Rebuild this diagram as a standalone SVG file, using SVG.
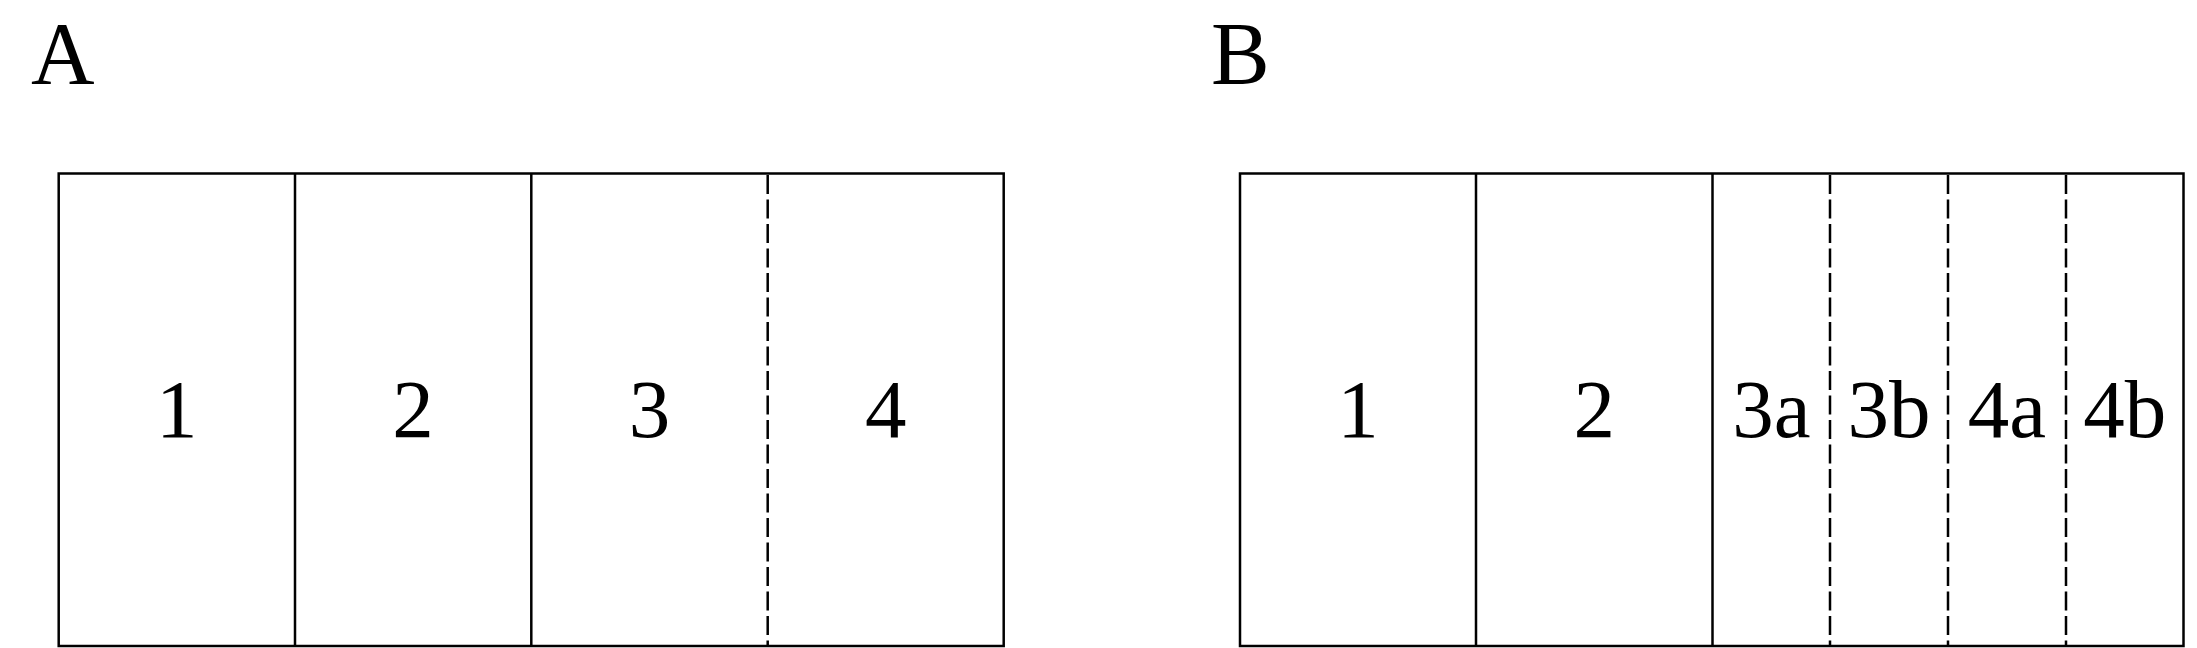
<svg xmlns="http://www.w3.org/2000/svg" width="2197" height="648" viewBox="0 0 2197 648">
<style>
.frame{fill:none;stroke:#000;stroke-width:2.5}
.solid{stroke:#000;stroke-width:2.5}
.dash{stroke:#000;stroke-width:2.5;stroke-dasharray:19 5.5}
.title{font-family:"Liberation Serif","DejaVu Serif",serif;font-size:88px;fill:#000}
.lbl{font-family:"Liberation Serif","DejaVu Serif",serif;font-size:83px;fill:#000;text-anchor:middle}
</style>
<rect width="2197" height="648" fill="#fff"/>
<g id="panelA">
<text class="title" x="31" y="83">A</text>
<rect class="frame" x="58.7" y="173.5" width="945" height="472.5"/>
<g id="connectorsA">
<line class="solid" x1="295" y1="173.5" x2="295" y2="646"/>
<line class="solid" x1="531.3" y1="173.5" x2="531.3" y2="646"/>
<line class="dash" x1="767.7" y1="175" x2="767.7" y2="646"/>
</g>
<g id="A1"><text class="lbl" x="176.8" y="437">1</text></g>
<g id="A2"><text class="lbl" x="413.1" y="437">2</text></g>
<g id="A3"><text class="lbl" x="649.5" y="437">3</text></g>
<g id="A4"><text class="lbl" x="885.8" y="437">4</text></g>
</g>
<g id="panelB">
<text class="title" x="1211" y="83">B</text>
<rect class="frame" x="1240" y="173.5" width="943.5" height="472.5"/>
<g id="connectorsB">
<line class="solid" x1="1476" y1="173.5" x2="1476" y2="646"/>
<line class="solid" x1="1712.5" y1="173.5" x2="1712.5" y2="646"/>
<line class="dash" x1="1830" y1="175" x2="1830" y2="646"/>
<line class="dash" x1="1948" y1="175" x2="1948" y2="646"/>
<line class="dash" x1="2066" y1="175" x2="2066" y2="646"/>
</g>
<g id="B1"><text class="lbl" x="1358" y="437">1</text></g>
<g id="B2"><text class="lbl" x="1594.2" y="437">2</text></g>
<g id="B3a"><text class="lbl" x="1771.3" y="437">3a</text></g>
<g id="B3b"><text class="lbl" x="1889" y="437">3b</text></g>
<g id="B4a"><text class="lbl" x="2007" y="437">4a</text></g>
<g id="B4b"><text class="lbl" x="2124.8" y="437">4b</text></g>
</g>
</svg>
